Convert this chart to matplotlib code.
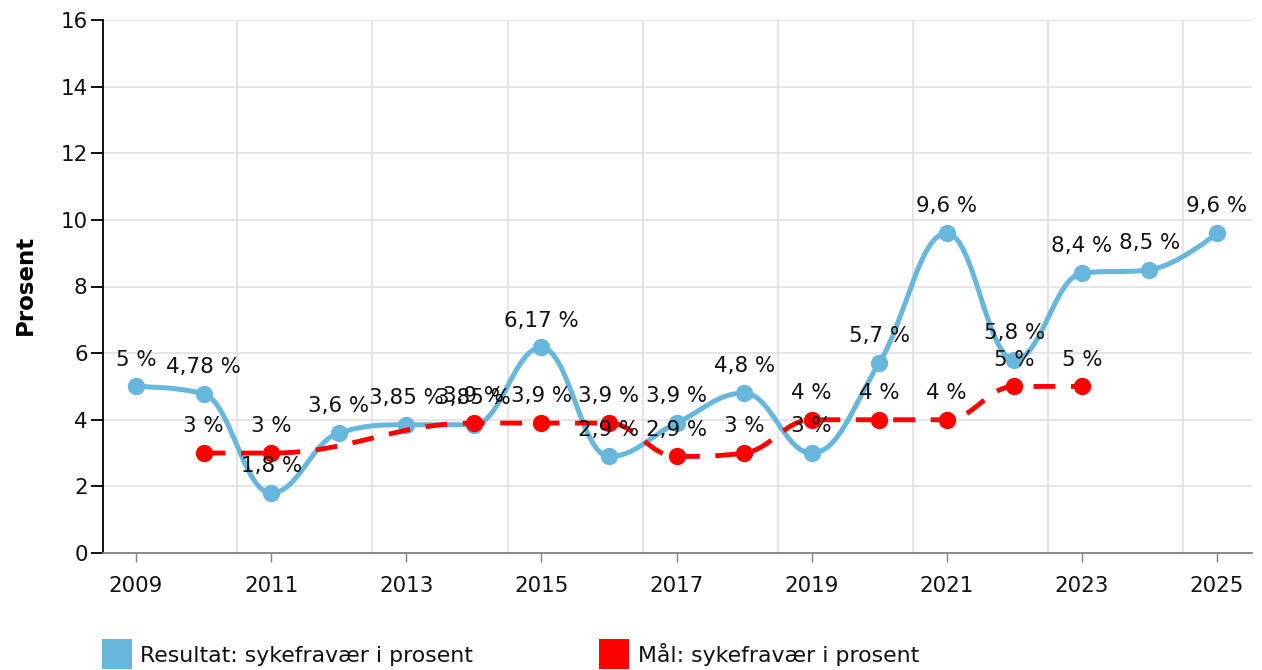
import matplotlib
matplotlib.use("Agg")
import matplotlib.pyplot as plt
from matplotlib.path import Path
from matplotlib.patches import PathPatch, Rectangle
import numpy as np

# ---- data ----
result_years = [2009, 2010, 2011, 2012, 2013, 2014, 2015, 2016, 2017,
                2018, 2019, 2020, 2021, 2022, 2023, 2024, 2025]
result_values = [5, 4.78, 1.8, 3.6, 3.85, 3.85, 6.17, 2.9, 3.9,
                 4.8, 3, 5.7, 9.6, 5.8, 8.4, 8.5, 9.6]
goal_years = [2010, 2011, 2014, 2015, 2016, 2017, 2018, 2019, 2020, 2021, 2022, 2023]
goal_values = [3, 3, 3.9, 3.9, 3.9, 2.9, 3, 4, 4, 4, 5, 5]
xtick_years = [2009, 2011, 2013, 2015, 2017, 2019, 2021, 2023, 2025]
ytick_values = [0, 2, 4, 6, 8, 10, 12, 14, 16]
series_names = ["Resultat: sykefravær i prosent", "Mål: sykefravær i prosent"]

BLUE = "#67b7dc"
RED = "#ff0000"
FS = 15.4
TXT = "#111111"


def spline_path(xs, ys):
    """Highcharts-style spline through the points (cubic bezier)."""
    sm = 1.5
    den = sm + 1
    n = len(xs)
    cont = [None] * n
    for i in range(1, n - 1):
        px, py = xs[i], ys[i]
        lx, ly = xs[i - 1], ys[i - 1]
        nx, ny = xs[i + 1], ys[i + 1]
        lcx = (sm * px + lx) / den
        lcy = (sm * py + ly) / den
        rcx = (sm * px + nx) / den
        rcy = (sm * py + ny) / den
        if rcx != lcx:
            corr = ((rcy - lcy) * (rcx - px)) / (rcx - lcx) + py - rcy
            lcy += corr
            rcy += corr
        if lcy > ly and lcy > py:
            lcy = max(ly, py)
            rcy = 2 * py - lcy
        elif lcy < ly and lcy < py:
            lcy = min(ly, py)
            rcy = 2 * py - lcy
        if rcy > ny and rcy > py:
            rcy = max(ny, py)
            lcy = 2 * py - rcy
        elif rcy < ny and rcy < py:
            rcy = min(ny, py)
            lcy = 2 * py - rcy
        cont[i] = (lcx, lcy, rcx, rcy)
    verts = [(xs[0], ys[0])]
    codes = [Path.MOVETO]
    for i in range(1, n):
        if cont[i - 1] is not None:
            c1 = (cont[i - 1][2], cont[i - 1][3])
        else:
            c1 = (xs[i - 1], ys[i - 1])
        if cont[i] is not None:
            c2 = (cont[i][0], cont[i][1])
        else:
            c2 = (xs[i], ys[i])
        verts += [c1, c2, (xs[i], ys[i])]
        codes += [Path.CURVE4] * 3
    return Path(verts, codes)


def fmt(v):
    return ("%g" % v).replace(".", ",") + " %"


W, H = 1262, 670
fig = plt.figure(figsize=(W / 100, H / 100), dpi=100)
ax = fig.add_axes([103 / W, (H - 553) / H, (1252 - 103) / W, (553 - 20) / H])

ppy = (1217 - 136) / 16
ax.set_xlim(2009 - 33 / ppy, 2025 + 35 / ppy)
ax.set_ylim(0, 16)

# grid
for y in ytick_values[1:]:
    ax.axhline(y, color="#e0e0e0", lw=1.2, zorder=0)
for x in np.arange(2010.5, 2025, 2):
    ax.axvline(x, color="#e0e0e0", lw=1.2, zorder=0)

# series
p1 = PathPatch(spline_path(result_years, result_values), fill=False,
               edgecolor=BLUE, lw=3.6, capstyle="round", joinstyle="round", zorder=3)
ax.add_patch(p1)
ax.plot(result_years, result_values, "o", color=BLUE, ms=12.5, mew=0, zorder=4)

p2 = PathPatch(spline_path(goal_years, goal_values), fill=False,
               edgecolor=RED, lw=3.5, linestyle=(0, (4.5, 3.2)), capstyle="butt", zorder=5)
ax.add_patch(p2)
ax.plot(goal_years, goal_values, "o", color=RED, ms=12.5, mew=0, zorder=6)

# data labels
for x, v in zip(result_years, result_values):
    ax.annotate(fmt(v), (x, v), xytext=(0, 15), textcoords="offset points",
                ha="center", va="baseline", fontsize=FS, color=TXT, zorder=10)
for x, v in zip(goal_years, goal_values):
    ax.annotate(fmt(v), (x, v), xytext=(0, 15), textcoords="offset points",
                ha="center", va="baseline", fontsize=FS, color=TXT, zorder=10)

# axes styling
ax.spines["top"].set_visible(False)
ax.spines["right"].set_visible(False)
ax.spines["left"].set_color("#000000")
ax.spines["left"].set_linewidth(1.3)
ax.spines["bottom"].set_color("#808080")
ax.spines["bottom"].set_linewidth(1.3)

ax.set_xticks(xtick_years)
ax.set_xticklabels([str(y) for y in xtick_years])
ax.set_yticks(ytick_values)
ax.set_yticklabels([str(v) for v in ytick_values])
ax.tick_params(axis="x", length=6.5, width=1, color="#808080", pad=10, labelsize=FS, labelcolor=TXT)
ax.tick_params(axis="y", length=9, width=1.3, color="#000000", pad=2, labelsize=FS, labelcolor=TXT)

fig.text(25 / W, 1 - 285 / H, "Prosent", rotation=90, ha="center", va="center",
         fontsize=16.5, fontweight="bold", color="#000000")

# legend
for (x0, tx, col, name) in [(102, 140, BLUE, series_names[0]), (599, 638, RED, series_names[1])]:
    fig.patches.append(Rectangle((x0 / W, 1 - 669 / H), 30 / W, 30 / H,
                                 transform=fig.transFigure, facecolor=col, edgecolor="none"))
    fig.text(tx / W, 1 - 662 / H, name, ha="left", va="baseline", fontsize=15.8, color=TXT)

fig.savefig("out.png", dpi=100)
